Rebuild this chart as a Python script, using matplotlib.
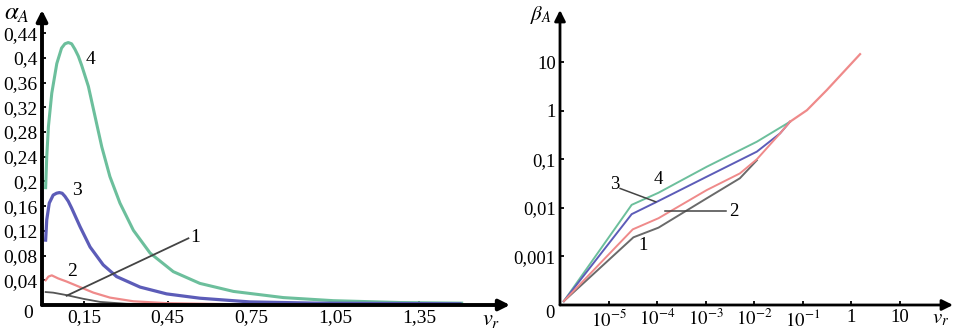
import matplotlib

matplotlib.use("Agg")
import matplotlib.pyplot as plt

plt.rcParams["font.family"] = ["Liberation Serif", "DejaVu Serif"]
plt.rcParams["mathtext.fontset"] = "stix"

# ---- left panel: alpha_A vs v_r (linear) ----
alpha_yticks = [0.04, 0.08, 0.12, 0.16, 0.2, 0.24, 0.28, 0.32, 0.36, 0.4, 0.44]
alpha_ylabels = ["0,04", "0,08", "0,12", "0,16", "0,2", "0,24", "0,28",
                 "0,32", "0,36", "0,4", "0,44"]
alpha_xticks = [0.15, 0.45, 0.75, 1.05, 1.35]
alpha_xlabels = ["0,15", "0,45", "0,75", "1,05", "1,35"]

a4_x = [0.013, 0.017, 0.023, 0.035, 0.053, 0.070, 0.082, 0.094, 0.106, 0.118,
        0.13, 0.142, 0.166, 0.19, 0.214, 0.243, 0.279, 0.327, 0.387, 0.47,
        0.565, 0.685, 0.864, 1.043, 1.281, 1.502]
a4_y = [0.19, 0.24, 0.289, 0.343, 0.391, 0.416, 0.423, 0.425, 0.423, 0.414,
        0.403, 0.388, 0.354, 0.305, 0.256, 0.208, 0.165, 0.121, 0.084, 0.054,
        0.035, 0.022, 0.012, 0.007, 0.004, 0.003]
a3_x = [0.013, 0.017, 0.026, 0.04, 0.052, 0.062, 0.072, 0.082, 0.094, 0.106,
        0.136, 0.172, 0.219, 0.267, 0.351, 0.446, 0.565, 0.744, 0.983, 1.496]
a3_y = [0.105, 0.138, 0.165, 0.178, 0.181, 0.182, 0.181, 0.176, 0.168, 0.157,
        0.127, 0.094, 0.065, 0.046, 0.029, 0.018, 0.011, 0.005, 0.003, 0.002]
a2_x = [0.013, 0.023, 0.035, 0.058, 0.088, 0.136, 0.184, 0.243, 0.327, 0.446,
        0.685, 1.043, 1.4]
a2_y = [0.04, 0.046, 0.048, 0.043, 0.038, 0.029, 0.02, 0.012, 0.006, 0.003,
        0.0012, 0.0006, 0.0004]
a1_x = [0.013, 0.04, 0.088, 0.148, 0.208, 0.303, 0.446, 0.7, 1.0]
a1_y = [0.021, 0.02, 0.016, 0.01, 0.005, 0.002, 0.0008, 0.0004, 0.0003]

# ---- right panel: beta_A vs v_r (log-log) ----
beta_yticks = [1e-3, 1e-2, 1e-1, 1, 10]
beta_ylabels = ["0,001", "0,01", "0,1", "1", "10"]
beta_xticks = [1e-5, 1e-4, 1e-3, 1e-2, 1e-1, 1, 10]
beta_xlabels = [r"$10^{-5}$", r"$10^{-4}$", r"$10^{-3}$", r"$10^{-2}$",
                r"$10^{-1}$", "1", "10"]

b_common_x = [0.055, 0.123, 0.316, 1.53]
b_common_y = [0.59, 1.02, 2.65, 14.5]
b4_x = [1.2e-6, 3.0e-5, 1.07e-4, 1.06e-3, 1.14e-2, 0.055]
b4_y = [1.2e-4, 0.0115, 0.0204, 0.070, 0.229, 0.59]
b3_x = [1.2e-6, 3.0e-5, 1.07e-4, 1.06e-3, 1.14e-2, 0.0344, 0.055]
b3_y = [1.2e-4, 0.0074, 0.0138, 0.0437, 0.143, 0.34, 0.59]
b2_x = [1.2e-6, 3.16e-5, 1.07e-4, 1.06e-3, 5.1e-3, 1.14e-2, 0.0344, 0.055]
b2_y = [1.2e-4, 0.0036, 0.0061, 0.0232, 0.051, 0.0995, 0.34, 0.59]
b1_x = [1.2e-6, 3.26e-5, 1.07e-4, 1.06e-3, 5.1e-3, 1.14e-2]
b1_y = [1.2e-4, 0.00247, 0.0039, 0.0157, 0.0405, 0.095]

GREEN = "#6cbf9c"
BLUE = "#5c5cb8"
RED = "#ef8a8a"
GRAY = "#555555"

W, H = 958, 333
fig = plt.figure(figsize=(W / 100, H / 100), dpi=100)


def axes_px(left, bottom_from_top, right, top_from_top):
    return fig.add_axes([left / W, 1 - bottom_from_top / H,
                         (right - left) / W, (bottom_from_top - top_from_top) / H])


def draw_axes_arrows(ax, lw):
    for end in [(1, 0), (0, 1)]:
        ax.annotate("", xy=end, xytext=(0, 0), xycoords="axes fraction",
                    arrowprops=dict(arrowstyle="-|>", lw=lw, color="black",
                                    mutation_scale=16, shrinkA=0, shrinkB=0))
    for s in ax.spines.values():
        s.set_visible(False)


# left
ax1 = axes_px(42, 305, 510, 10)
ax1.set_xlim(0, 1.675)
ax1.set_ylim(0, 0.4777)
ax1.plot(a4_x, a4_y, color=GREEN, lw=2.2, clip_on=False)
ax1.plot(a3_x, a3_y, color=BLUE, lw=2.3, clip_on=False)
ax1.plot(a2_x, a2_y, color=RED, lw=1.6, clip_on=False)
ax1.plot(a1_x, a1_y, color=GRAY, lw=1.3, clip_on=False)
ax1.plot([0.088, 0.524], [0.015, 0.108], color="#444444", lw=1.3)
ax1.text(0.53, 0.11, "1", fontsize=14, va="center", ha="left")
ax1.text(0.106, 0.054, "2", fontsize=14, va="center", ha="center")
ax1.text(0.126, 0.186, "3", fontsize=14, va="center", ha="center")
ax1.text(0.174, 0.397, "4", fontsize=14, va="center", ha="center")
ax1.set_yticks(alpha_yticks, alpha_ylabels)
ax1.set_xticks(alpha_xticks, alpha_xlabels)
ax1.tick_params(direction="in", length=3, width=1.3, labelsize=14, pad=3)
draw_axes_arrows(ax1, 2.8)

# right
ax2 = axes_px(560, 305, 953, 10)
ax2.set_xscale("log")
ax2.set_yscale("log")
ax2.set_xlim(1e-6, 10 ** 2.1)
ax2.set_ylim(1e-4, 10 ** 2.07)
ax2.plot(b4_x, b4_y, color=GREEN, lw=1.4)
ax2.plot(b3_x, b3_y, color=BLUE, lw=1.4)
ax2.plot(b1_x, b1_y, color="#6a6a6a", lw=1.4)
ax2.plot(b2_x, b2_y, color=RED, lw=1.4)
ax2.plot(b_common_x, b_common_y, color=RED, lw=1.6)
ax2.plot([1.73e-5, 9.4e-5], [0.025, 0.0133], color="#444444", lw=1.1)
ax2.plot([1.46e-4, 2.7e-3], [0.0087, 0.0087], color="#444444", lw=1.1)
ax2.text(1.07e-4, 0.039, "4", fontsize=13.5, va="center", ha="center")
ax2.text(1.36e-5, 0.030, "3", fontsize=13.5, va="center", ha="center")
ax2.text(3.1e-3, 0.0083, "2", fontsize=13.5, va="center", ha="left")
ax2.text(5.2e-5, 0.0017, "1", fontsize=13.5, va="center", ha="center")
ax2.set_yticks(beta_yticks, beta_ylabels)
ax2.set_xticks(beta_xticks, beta_xlabels)
ax2.minorticks_off()
ax2.tick_params(direction="in", length=3, width=1.3, labelsize=13.5, pad=3)
draw_axes_arrows(ax2, 2.0)

# axis names and origin labels
fig.text(4 / W, 1 - 14 / H, r"$\alpha_A$", fontsize=18, va="center", ha="left")
fig.text(530 / W, 1 - 15 / H, r"$\beta_A$", fontsize=15, va="center", ha="left")
fig.text(482 / W, 1 - 320 / H, r"$v_r$", fontsize=16, va="center", ha="left")
fig.text(932 / W, 1 - 319 / H, r"$v_r$", fontsize=15, va="center", ha="left")
fig.text(28 / W, 1 - 313 / H, "0", fontsize=14, va="center", ha="center")
fig.text(550 / W, 1 - 313 / H, "0", fontsize=13.5, va="center", ha="center")

fig.savefig("out.png", dpi=100)
